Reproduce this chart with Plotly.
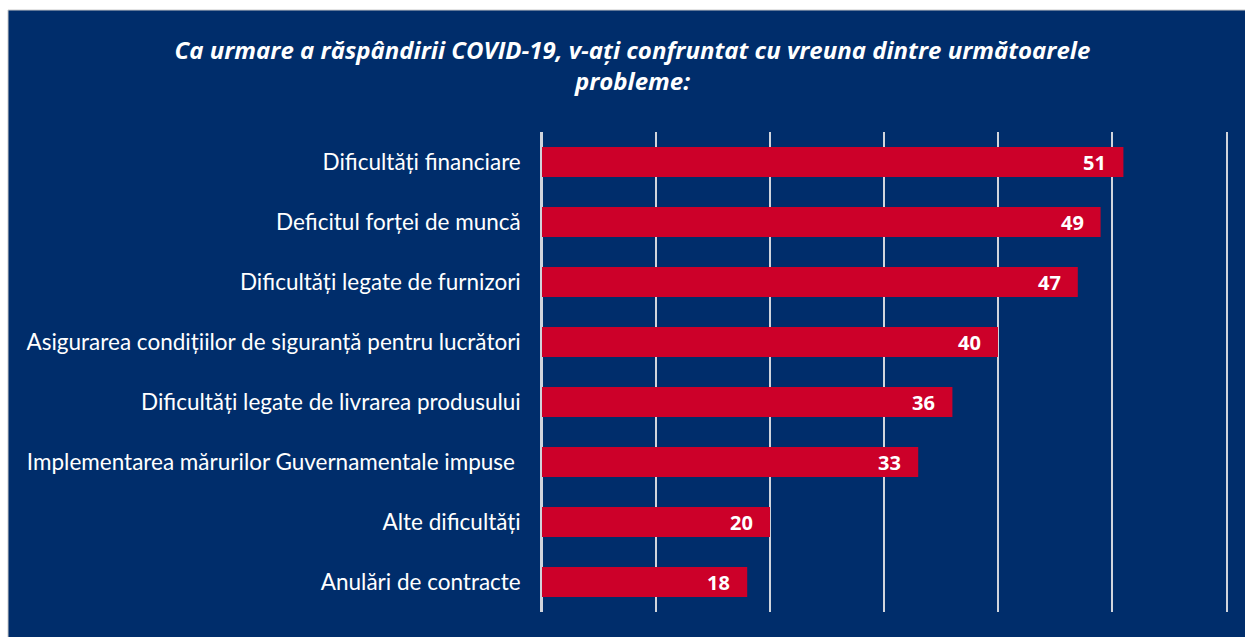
import plotly.graph_objects as go

categories = [
    "Dificultăți financiare",
    "Deficitul forței de muncă",
    "Dificultăți legate de furnizori",
    "Asigurarea condițiilor de siguranță pentru lucrători",
    "Dificultăți legate de livrarea produsului",
    "Implementarea mărurilor Guvernamentale impuse ",
    "Alte dificultăți",
    "Anulări de contracte",
]
values = [51, 49, 47, 40, 36, 33, 20, 18]
title = "<i><b>Ca urmare a răspândirii COVID-19, v-ați confruntat cu vreuna dintre următoarele<br>probleme:</b></i>"

NAVY = "#002D6B"
RED = "#CC0029"
GRID = "#D0D4DC"

fig = go.Figure(go.Bar(
    x=values, y=categories, orientation="h",
    marker=dict(color=RED, line=dict(width=0)),
    width=0.5,
    hoverinfo="x+y",
))

for c, v in zip(categories, values):
    fig.add_annotation(x=v, y=c, xref="x", yref="y", text=f"<b>{v}</b>",
                       showarrow=False, xanchor="right", yanchor="middle", xshift=-15,
                       font=dict(color="white", size=20, family="Open Sans"))

L, R, T, B = 542, 19, 132, 25
W, H = 1245, 637
pw, ph = W - L - R, H - T - B

def px2x(p):
    return (p - L) / pw

def py2y(p):
    return (H - B - p) / ph

fig.add_shape(type="rect", xref="paper", yref="paper",
              x0=px2x(8), x1=px2x(W + 5), y0=py2y(H + 5), y1=py2y(10),
              fillcolor=NAVY, line=dict(color="#C8C8C8", width=1), layer="below")

fig.update_layout(
    width=W, height=H,
    margin=dict(l=L, r=R, t=T, b=B),
    paper_bgcolor="white", plot_bgcolor="rgba(0,0,0,0)",
    showlegend=False,
    title=dict(text=title, x=0.508, xanchor="center", y=1 - 59 / H, yanchor="top",
               font=dict(family="Open Sans", size=24, color="white")),
    xaxis=dict(range=[0, 60], dtick=10, showgrid=True, gridcolor=GRID, gridwidth=1.5,
               zeroline=True, zerolinecolor=GRID, zerolinewidth=1.5,
               showticklabels=False, fixedrange=True),
    yaxis=dict(autorange="reversed", showgrid=False, ticks="", ticklabelstandoff=15,
               showline=True, mirror=True, linecolor=GRID, linewidth=1.5,
               tickfont=dict(family="Lato", size=22.5, color="white"), fixedrange=True),
    bargap=0.5,
)

fig.write_html("out.html", config={"displayModeBar": False},
               post_script="document.body.style.margin='0';document.body.style.overflow='hidden';")
